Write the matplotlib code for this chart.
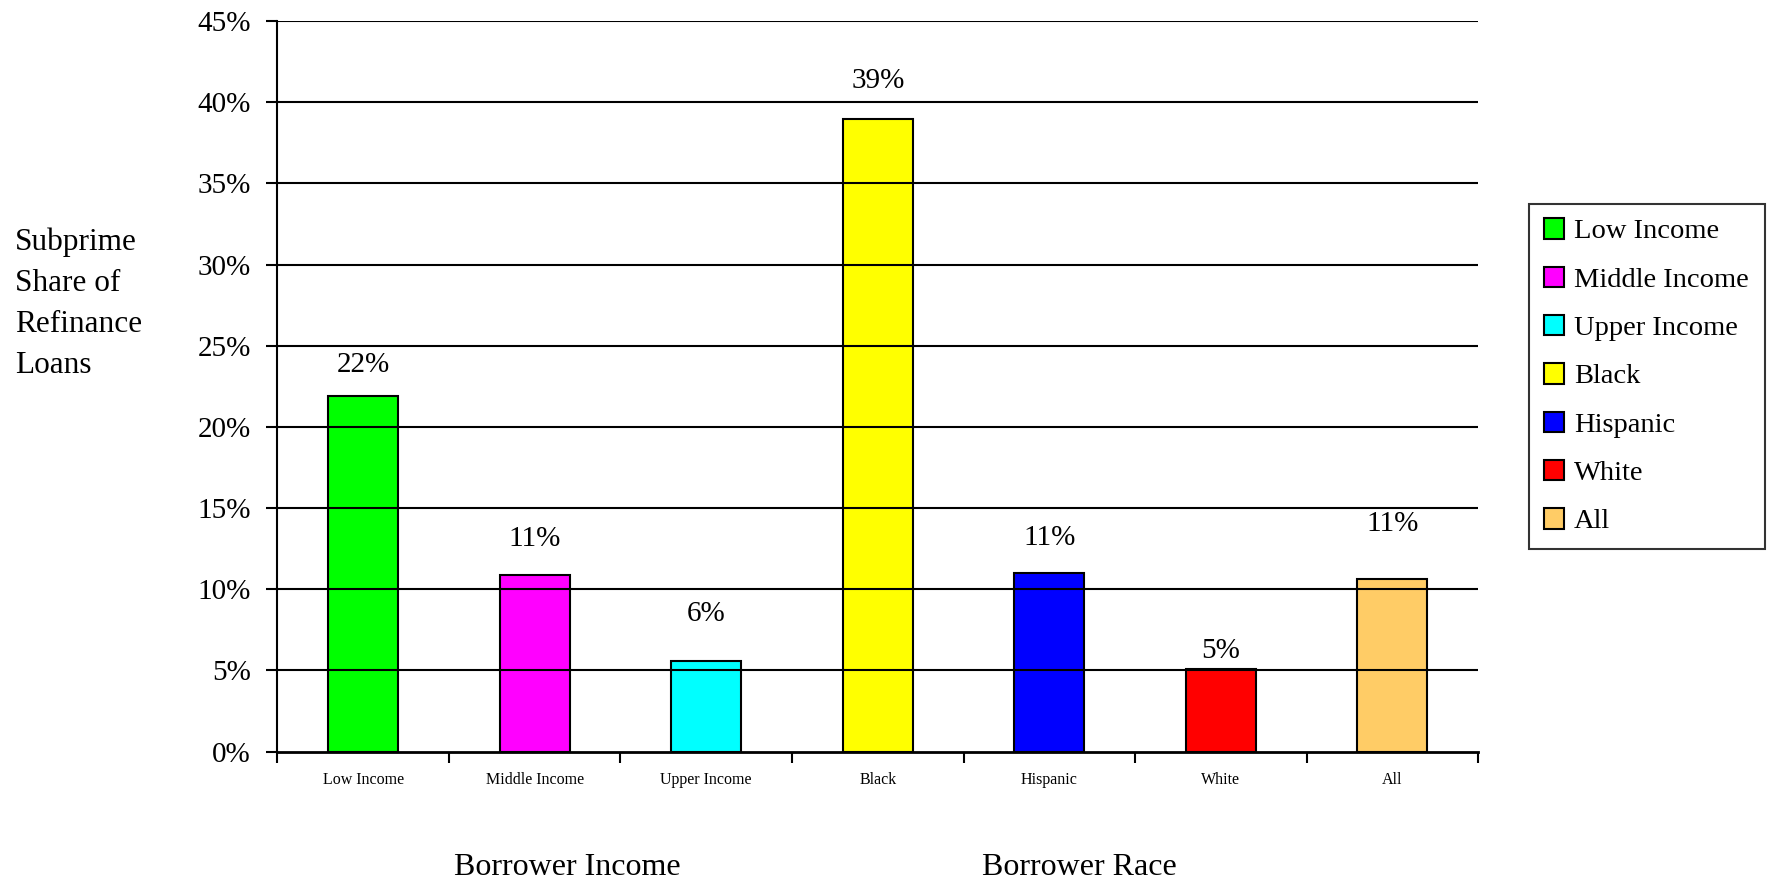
import numpy as np
import matplotlib.pyplot as plt
from matplotlib.patches import Patch

plt.rcParams['font.family'] = ['Liberation Serif', 'DejaVu Serif']

categories = ['Low Income', 'Middle Income', 'Upper Income', 'Black', 'Hispanic', 'White', 'All']
shares = [21.9, 10.9, 5.6, 39.0, 11.0, 5.1, 10.6]
colors = ['#00ff00', '#ff00ff', '#00ffff', '#ffff00', '#0000ff', '#ff0000', '#ffcc66']
# how far above each bar its value label sits (percentage points)
label_gap = [1.9, 2.2, 2.85, 2.3, 2.15, 1.1, 3.4]
yticks = [0, 5, 10, 15, 20, 25, 30, 35, 40, 45]

fig = plt.figure(figsize=(17.67, 8.8), dpi=100)
ax = fig.add_axes([0.157, 0.146, 0.6795, 0.83])

x = np.arange(len(categories))
ax.bar(x, shares, width=0.41, color=colors, edgecolor='black', linewidth=1.5, zorder=2)

for xi, v, g in zip(x, shares, label_gap):
    ax.text(xi, v + g, f'{v:.0f}%', ha='center', va='center', fontsize=21, zorder=4)

ax.set_xlim(-0.5, len(categories) - 0.5)
ax.set_ylim(0, 45)
ax.set_yticks(yticks)
ax.set_yticklabels([f'{t}%' for t in yticks], fontsize=21)
for t in yticks[1:]:
    ax.axhline(t, color='black', linewidth=1.5, zorder=3)

ax.set_xticks(x)
ax.set_xticklabels(categories, fontsize=11.5)
ax.set_xticks(np.arange(len(categories) + 1) - 0.5, minor=True)
ax.tick_params(axis='x', which='major', length=0, pad=15)
ax.tick_params(axis='x', which='minor', length=8, width=1.5, direction='out')
ax.tick_params(axis='y', length=8, width=1.5, direction='out', pad=11)

for side in ['top', 'right']:
    ax.spines[side].set_visible(False)
ax.spines['left'].set_linewidth(1.5)
ax.spines['bottom'].set_linewidth(2)

fig.text(0.0085, 0.655, 'Subprime\nShare of\nRefinance\nLoans', ha='left', va='center',
         fontsize=22.5, linespacing=1.55)
fig.text(0.321, 0.006, 'Borrower Income', ha='center', va='baseline', fontsize=23)
fig.text(0.611, 0.006, 'Borrower Race', ha='center', va='baseline', fontsize=23)

handles = [Patch(facecolor=c, edgecolor='black', linewidth=1.5, label=n) for c, n in zip(colors, categories)]
leg = fig.legend(handles=handles, loc='upper left', bbox_to_anchor=(0.8655, 0.768, 0.1335, 0.0),
                 mode='expand', fontsize=20.5, frameon=True, fancybox=False, edgecolor='black',
                 handlelength=0.72, handleheight=0.72, handletextpad=0.35,
                 labelspacing=0.78, borderpad=0.5, borderaxespad=0)
leg.get_frame().set_linewidth(1.5)

fig.savefig('out.png', dpi=100)
